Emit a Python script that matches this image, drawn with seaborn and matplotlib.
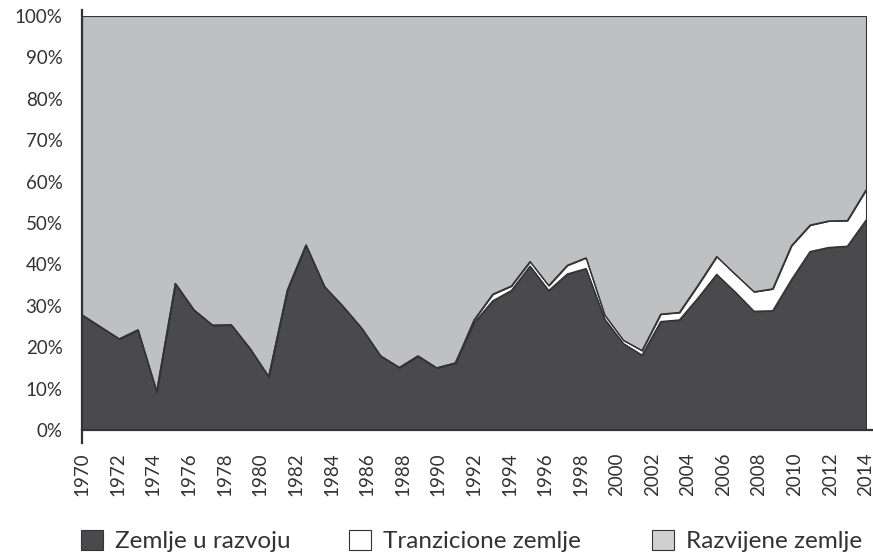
import numpy as np
import pandas as pd
import matplotlib
matplotlib.use("Agg")
import matplotlib.pyplot as plt
from matplotlib.patches import Patch
import seaborn as sns

# ---- data (shares of world total, %) ----
series_names = ["Zemlje u razvoju", "Tranzicione zemlje", "Razvijene zemlje"]
developing = [27.8, 24.9, 22.0, 24.2, 9.3, 35.4, 29.0, 25.3, 25.4, 19.7,
              12.9, 33.8, 44.7, 34.6, 29.8, 24.5, 17.9, 15.1, 17.9, 15.0,
              16.2, 25.9, 31.2, 33.7, 39.6, 33.7, 37.7, 39.0, 26.8, 20.9,
              18.1, 26.2, 26.6, 31.9, 37.6, 33.3, 28.7, 28.8, 36.3, 43.1,
              44.1, 44.4, 50.7]
transition = [0, 0, 0, 0, 0, 0, 0, 0, 0, 0,
              0, 0, 0, 0, 0, 0, 0, 0, 0, 0,
              0, 0.7, 1.6, 1.1, 1.1, 1.2, 2.1, 2.6, 1.0, 0.8,
              1.1, 1.8, 1.8, 3.1, 4.3, 4.3, 4.7, 5.3, 8.2, 6.4,
              6.4, 6.2, 7.3]
year_start, year_end = 1970, 2014
label_years = list(range(1970, 2015, 2))
ytick_values = list(range(0, 101, 10))
ytick_labels = [f"{v}%" for v in ytick_values]

dev = np.array(developing)
tra = np.array(transition)
developed = 100 - dev - tra
x = np.linspace(year_start, year_end, len(dev))

df = pd.DataFrame({"x": x, "dev": dev, "top_tra": dev + tra})

# ---- style ----
sns.set_theme(style="white")
plt.rcParams["font.family"] = ["Lato", "DejaVu Sans"]

c_dark = "#4a4a4c"
c_white = "#ffffff"
c_light = "#bfc0c2"
c_edge = "#333333"

fig = plt.figure(figsize=(8.73, 5.54), dpi=100)
ax = fig.add_axes([82 / 873, 1 - 430 / 554, (866 - 82) / 873, (430 - 16) / 554])

ax.stackplot(x, dev, tra, developed, colors=[c_dark, c_white, c_light],
             edgecolor=c_edge, linewidth=0.8)
sns.lineplot(data=df, x="x", y="dev", ax=ax, color=c_edge, linewidth=0.9)
sns.lineplot(data=df, x="x", y="top_tra", ax=ax, color=c_edge, linewidth=0.9)

ax.set_xlim(year_start, year_end)
ax.set_ylim(0, 100)
ax.set_xlabel("")
ax.set_ylabel("")

ax.set_yticks(ytick_values)
ax.set_yticklabels(ytick_labels)
ax.set_xticks(label_years)
ax.set_xticklabels([str(y) for y in label_years], rotation=90)
ax.set_xticks(range(year_start, year_end + 1), minor=True)

for side in ["top", "right"]:
    ax.spines[side].set_visible(False)
for side in ["left", "bottom"]:
    ax.spines[side].set_color(c_edge)
    ax.spines[side].set_linewidth(1.6)
    ax.spines[side].set_zorder(5)
ax.spines["left"].set_bounds(-3.2, 101.5)
ax.spines["bottom"].set_bounds(year_start, year_end + 0.4)

ax.tick_params(axis="both", which="both", direction="out", color=c_edge,
               width=1.4, length=10)
ax.tick_params(axis="y", labelsize=13.5, labelcolor="#333333", pad=4)
ax.tick_params(axis="x", labelsize=13.5, labelcolor="#333333", pad=6)
ax.grid(False)

legend_fill = [c_dark, c_white, "#d0d0d0"]
legend_left_px = [81, 349, 652]
for name, col, left in zip(series_names, legend_fill, legend_left_px):
    h = Patch(facecolor=col, edgecolor=c_edge, linewidth=0.8)
    fig.legend([h], [name], loc="center left",
               bbox_to_anchor=(left / 873, 13 / 554), frameon=False,
               fontsize=17.5, handlelength=0.9, handleheight=0.9,
               handletextpad=0.5, borderaxespad=0.0, borderpad=0.0,
               labelcolor="#333333")

fig.savefig("out.png", dpi=100)
